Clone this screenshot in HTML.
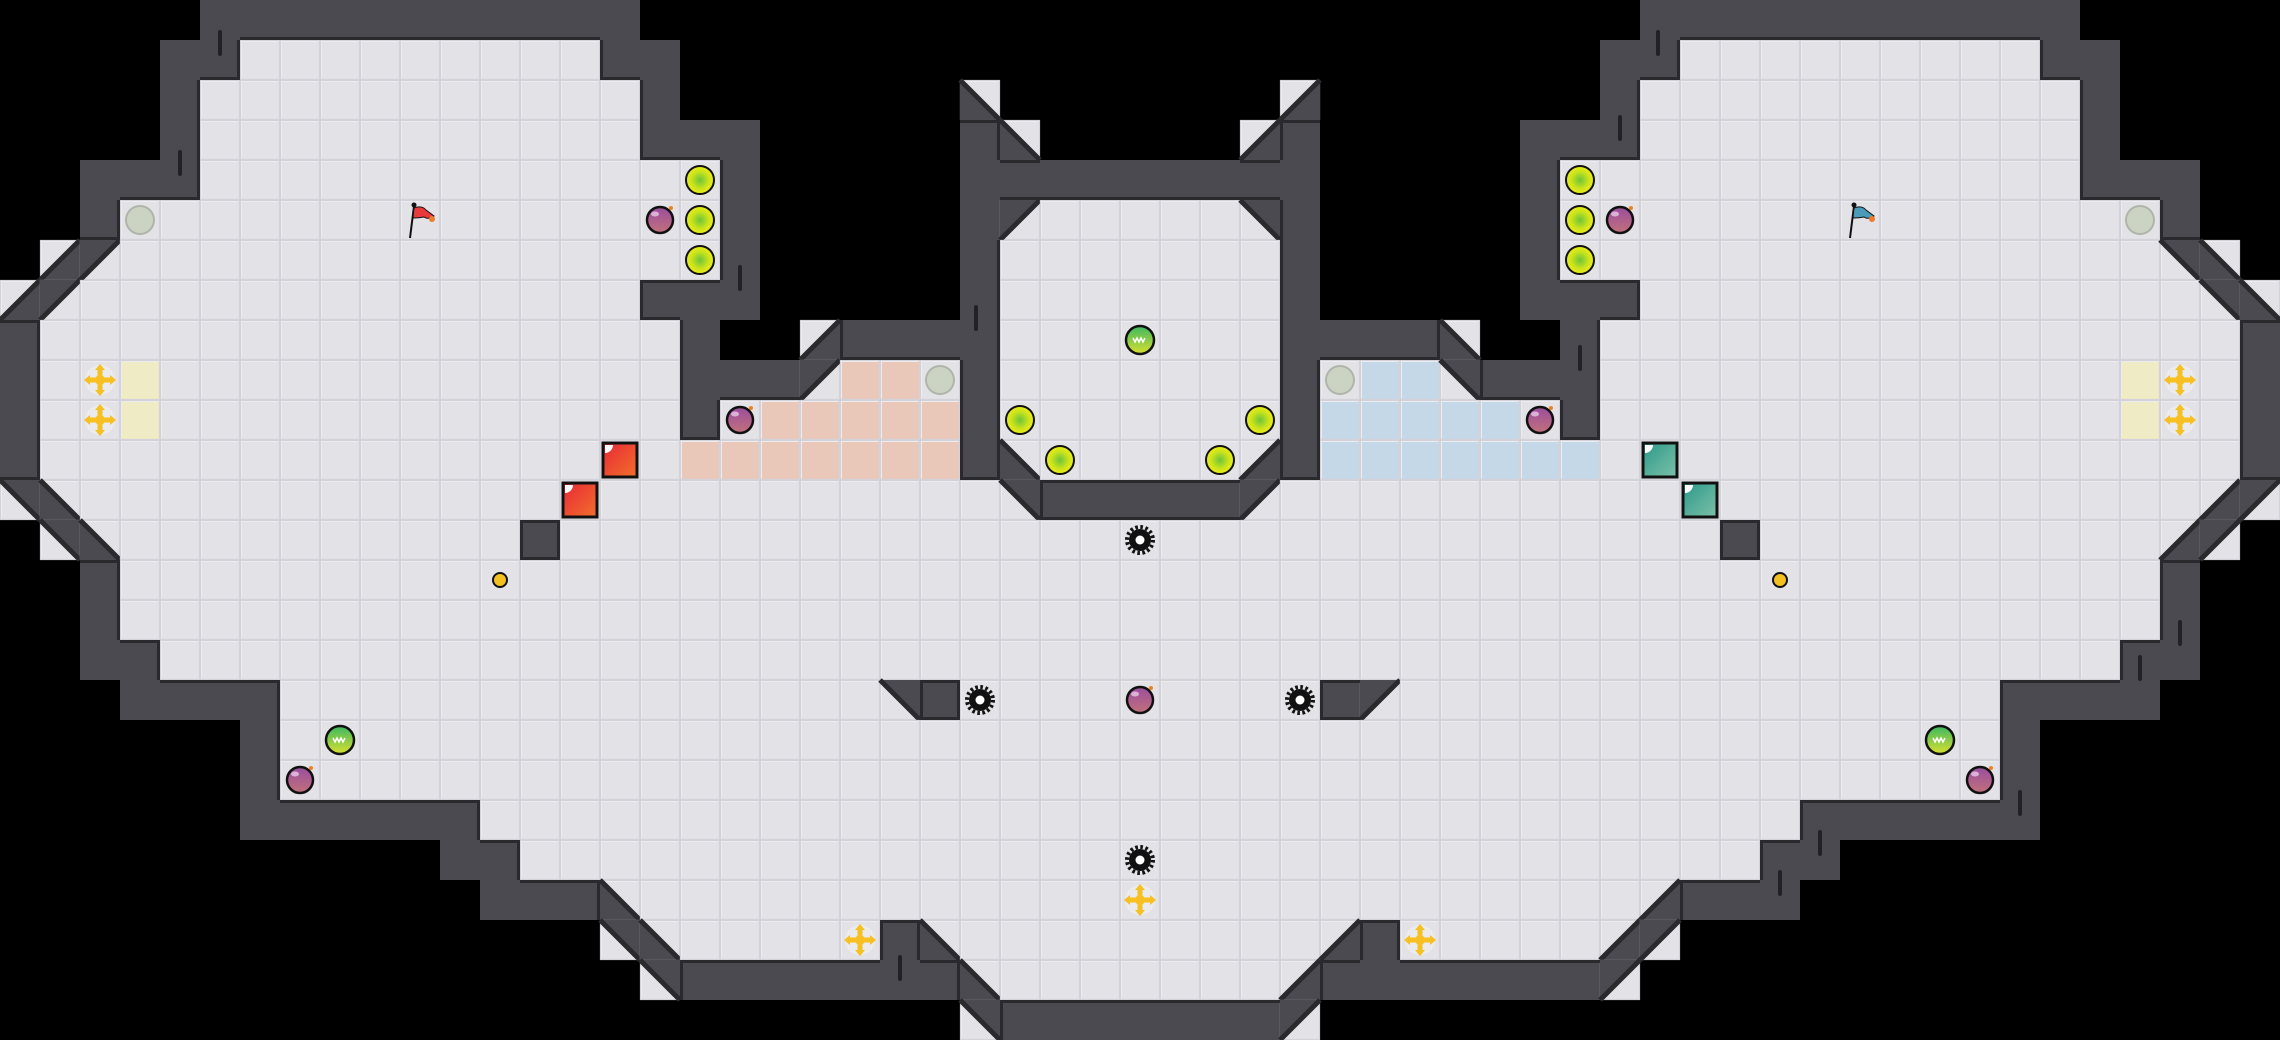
<!DOCTYPE html>
<html><head><meta charset="utf-8"><style>
html,body{margin:0;padding:0;background:#000;}
svg{display:block}
</style></head><body>
<svg id="s" xmlns="http://www.w3.org/2000/svg" width="2280" height="1040" viewBox="0 0 2280 1040">
<defs>
<radialGradient id="yg" cx="50%" cy="50%" r="50%"><stop offset="0" stop-color="#6cc43a"/><stop offset="0.6" stop-color="#c8e21e"/><stop offset="1" stop-color="#eef010"/></radialGradient>
<linearGradient id="bg" x1="0" y1="0" x2="0" y2="1"><stop offset="0" stop-color="#9a4ea0"/><stop offset="1" stop-color="#c2707a"/></linearGradient>
<linearGradient id="gg" x1="0" y1="0" x2="0" y2="1"><stop offset="0" stop-color="#3cb860"/><stop offset="1" stop-color="#d8e030"/></linearGradient>
<linearGradient id="rg" x1="0" y1="0" x2="1" y2="1"><stop offset="0" stop-color="#e82838"/><stop offset="1" stop-color="#f2702a"/></linearGradient>
<linearGradient id="tg" x1="0" y1="0" x2="1" y2="1"><stop offset="0" stop-color="#2a9a8a"/><stop offset="1" stop-color="#7ec0a8"/></linearGradient>
</defs>
<rect width="2280" height="1040" fill="#000"/>
<g id="map"></g>
<g id="items"></g>
</svg>
<script>
const R=26,C=57,T=40;
const g=[];for(let r=0;r<R;r++){g.push(new Array(C).fill(' '));}
const mir={a:'b',b:'a',c:'d',d:'c',r:'u'};
function L(r,c0,c1,ch){for(let c=c0;c<=c1;c++){g[r][c]=ch;g[r][56-c]=mir[ch]||ch;}}
L(0,5,15,'#');
L(1,4,5,'#');L(1,6,14,'.');L(1,15,16,'#');
L(2,4,4,'#');L(2,5,15,'.');L(2,16,16,'#');L(2,24,24,'c');
L(3,4,4,'#');L(3,5,15,'.');L(3,16,18,'#');L(3,24,24,'#');L(3,25,25,'c');
L(4,2,4,'#');L(4,5,17,'.');L(4,18,18,'#');L(4,24,28,'#');
L(5,2,2,'#');L(5,3,17,'.');L(5,18,18,'#');L(5,24,24,'#');L(5,25,25,'a');L(5,26,28,'.');
L(6,1,1,'d');L(6,2,2,'a');L(6,3,17,'.');L(6,18,18,'#');L(6,24,24,'#');L(6,25,28,'.');
L(7,0,0,'d');L(7,1,1,'a');L(7,2,15,'.');L(7,16,18,'#');L(7,24,24,'#');L(7,25,28,'.');
L(8,0,0,'#');L(8,1,16,'.');L(8,17,17,'#');L(8,20,20,'d');L(8,21,24,'#');L(8,25,28,'.');
L(9,0,0,'#');L(9,1,16,'.');L(9,3,3,'y');L(9,17,19,'#');L(9,20,20,'a');L(9,21,22,'r');L(9,23,23,'.');L(9,24,24,'#');L(9,25,28,'.');
L(10,0,0,'#');L(10,1,16,'.');L(10,3,3,'y');L(10,17,17,'#');L(10,18,18,'.');L(10,19,23,'r');L(10,24,24,'#');L(10,25,28,'.');
L(11,0,0,'#');L(11,1,16,'.');L(11,17,23,'r');L(11,24,24,'#');L(11,25,25,'c');L(11,26,28,'.');
L(12,0,0,'b');L(12,1,1,'c');L(12,2,24,'.');L(12,25,25,'b');L(12,26,28,'#');
L(13,1,1,'b');L(13,2,2,'c');L(13,3,28,'.');L(13,13,13,'#');
L(14,2,2,'#');L(14,3,28,'.');
L(15,2,2,'#');L(15,3,28,'.');
L(16,2,3,'#');L(16,4,28,'.');
L(17,3,6,'#');L(17,7,28,'.');L(17,22,22,'b');L(17,23,23,'#');
L(18,6,6,'#');L(18,7,28,'.');
L(19,6,6,'#');L(19,7,28,'.');
L(20,6,11,'#');L(20,12,28,'.');
L(21,11,12,'#');L(21,13,28,'.');
L(22,12,14,'#');L(22,15,15,'c');L(22,16,28,'.');
L(23,15,15,'b');L(23,16,16,'c');L(23,17,21,'.');L(23,22,22,'#');L(23,23,23,'c');L(23,24,28,'.');
L(24,16,16,'b');L(24,17,23,'#');L(24,24,24,'c');L(24,25,28,'.');
L(25,24,24,'b');L(25,25,28,'#');

const floorCol={'.':'#e3e3e7',r:'#e9c8ba',u:'#c4d8e8',y:'#efebc4',a:'#e3e3e7',b:'#e3e3e7',c:'#e3e3e7',d:'#e3e3e7'};
const WALL='#4b4a50',EDGE='#2a2a2e';
let h='';
const isWall=(r,c)=>r>=0&&r<R&&c>=0&&c<C&&g[r][c]=='#';
const isFloor=(r,c)=>r>=0&&r<R&&c>=0&&c<C&&g[r][c]!=' '&&g[r][c]!='#';
for(let r=0;r<R;r++)for(let c=0;c<C;c++){
 const ch=g[r][c],x=c*T,y=r*T;
 if(ch==' ')continue;
 if(ch=='#'){h+=`<rect x="${x}" y="${y}" width="40" height="40" fill="${WALL}"/>`;continue;}
 const f=floorCol[ch];
 h+=`<rect x="${x}" y="${y}" width="40" height="40" fill="${f}"/>`;
 h+=`<rect x="${x+0.5}" y="${y+0.5}" width="39" height="39" fill="none" stroke="#d2d2d8" stroke-width="1.2"/>`;
 h+=`<path d="M${x+1.5} ${y+38.5}V${y+1.5}H${x+38.5}" fill="none" stroke="#ececf0" stroke-width="1"/>`;
 if('abcd'.includes(ch)){
  let p,e;
  if(ch=='a'){p=[[0,0],[40,0],[0,40]];e=[[40,0],[0,40]];}
  if(ch=='b'){p=[[0,0],[40,0],[40,40]];e=[[0,0],[40,40]];}
  if(ch=='c'){p=[[0,0],[0,40],[40,40]];e=[[0,0],[40,40]];}
  if(ch=='d'){p=[[40,0],[40,40],[0,40]];e=[[40,0],[0,40]];}
  h+=`<polygon points="${p.map(q=>(x+q[0])+','+(y+q[1])).join(' ')}" fill="${WALL}"/>`;
  h+=`<line x1="${x+e[0][0]}" y1="${y+e[0][1]}" x2="${x+e[1][0]}" y2="${y+e[1][1]}" stroke="${EDGE}" stroke-width="5"/>`;
 }
}
// edges between wall and floor
for(let r=0;r<R;r++)for(let c=0;c<C;c++){
 if(!isWall(r,c))continue;const x=c*T,y=r*T;
 if(isFloor(r,c+1)&&!'ad'.includes(g[r][c+1])||false) h+=`<rect x="${x+37}" y="${y}" width="3" height="40" fill="${EDGE}"/>`;
 if(isFloor(r,c-1)) h+=`<rect x="${x}" y="${y}" width="3" height="40" fill="${EDGE}"/>`;
 if(isFloor(r+1,c)) h+=`<rect x="${x}" y="${y+37}" width="40" height="3" fill="${EDGE}"/>`;
 if(isFloor(r-1,c)) h+=`<rect x="${x}" y="${y}" width="40" height="3" fill="${EDGE}"/>`;
}
// decorative ticks
[[218,30],[178,150],[738,265],[974,305],[898,955],[1656,30],[1618,115],[1578,345],[2178,620],[2138,655],[2018,790],[1818,830],[1778,870]].forEach(t=>{h+=`<rect x="${t[0]}" y="${t[1]}" width="4" height="26" rx="2" fill="#222226"/>`;});
document.getElementById('map').innerHTML=h;

let it='';
const cx=c=>c*T+20,cy=r=>r*T+20;
function ygc(c,r){it+=`<circle cx="${cx(c)}" cy="${cy(r)}" r="14" fill="url(#yg)" stroke="#111" stroke-width="2"/>`;}
function gray(c,r){it+=`<circle cx="${cx(c)}" cy="${cy(r)}" r="14" fill="#cbd3c2" stroke="#b0b4aa" stroke-width="2"/>`;}
function bomb(c,r){const X=cx(c),Y=cy(r);it+=`<circle cx="${X}" cy="${Y}" r="13" fill="url(#bg)" stroke="#111" stroke-width="2.5"/><ellipse cx="${X-5}" cy="${Y-6}" rx="4" ry="2.5" fill="#e8c8e8" opacity="0.8"/><circle cx="${X+11}" cy="${Y-12}" r="2" fill="#f08020"/>`;}
function green(c,r){const X=cx(c),Y=cy(r);it+=`<circle cx="${X}" cy="${Y}" r="14" fill="url(#gg)" stroke="#111" stroke-width="2.5"/><path d="M${X-7} ${Y-2}l2 4 2-4 2 4 2-4 2 4 2-4" fill="none" stroke="#fff" stroke-width="1.5"/>`;}
function boost(c,r){const X=cx(c),Y=cy(r);it+=`<circle cx="${X}" cy="${Y}" r="15" fill="#ebebee"/><g fill="#f6bf22"><rect x="${X-2.5}" y="${Y-12}" width="5" height="24"/><rect x="${X-12}" y="${Y-2.5}" width="24" height="5"/><polygon points="${X},${Y-16} ${X-5},${Y-10} ${X+5},${Y-10}"/><polygon points="${X},${Y+16} ${X-5},${Y+10} ${X+5},${Y+10}"/><polygon points="${X-16},${Y} ${X-10},${Y-5} ${X-10},${Y+5}"/><polygon points="${X+16},${Y} ${X+10},${Y-5} ${X+10},${Y+5}"/><circle cx="${X}" cy="${Y}" r="5"/></g>`;}
function spike(c,r){const X=cx(c),Y=cy(r);it+=`<circle cx="${X}" cy="${Y}" r="11" fill="#111"/><circle cx="${X}" cy="${Y}" r="13" fill="none" stroke="#111" stroke-width="4" stroke-dasharray="2.6 2.5"/><circle cx="${X}" cy="${Y}" r="4.5" fill="#fff"/>`;}
function sq(c,r,grad){const x=c*T+3,y=r*T+3;it+=`<rect x="${x}" y="${y}" width="34" height="34" fill="url(#${grad})" stroke="#111" stroke-width="3"/><path d="M${x+2} ${y+2}h8a8 8 0 0 1-8 8z" fill="#fff"/>`;}
function coin(c,r){it+=`<circle cx="${cx(c)}" cy="${cy(r)}" r="7" fill="#f2c020" stroke="#111" stroke-width="2"/>`;}
function flag(c,r,col){const X=cx(c),Y=cy(r);it+=`<line x1="${X-10}" y1="${Y+18}" x2="${X-6}" y2="${Y-14}" stroke="#111" stroke-width="2"/><circle cx="${X-6}" cy="${Y-15}" r="2.5" fill="#111"/><path d="M${X-6} ${Y-12}q8-3 12 2l8 6q-6 4-10 1q-5 1-11 1z" fill="${col}" stroke="#111" stroke-width="1"/><circle cx="${X+12}" cy="${Y-1}" r="3" fill="#f07a2a"/>`;}

// left
flag(10,5,'#e83a3a');gray(3,5);bomb(16,5);ygc(17,4);ygc(17,5);ygc(17,6);
boost(2,9);boost(2,10);bomb(18,10);gray(23,9);sq(15,11,'rg');sq(14,12,'rg');
coin(12,14);green(8,18);bomb(7,19);boost(21,23);spike(24,17);
// right
flag(46,5,'#4a9ab8');gray(53,5);bomb(40,5);ygc(39,4);ygc(39,5);ygc(39,6);
boost(54,9);boost(54,10);bomb(38,10);gray(33,9);sq(41,11,'tg');sq(42,12,'tg');
coin(44,14);green(48,18);bomb(49,19);boost(35,23);spike(32,17);
// center
green(28,8);ygc(25,10);ygc(26,11);ygc(31,10);ygc(30,11);
spike(28,13);bomb(28,17);spike(28,21);boost(28,22);
document.getElementById('items').innerHTML=it;
</script>
</body></html>
